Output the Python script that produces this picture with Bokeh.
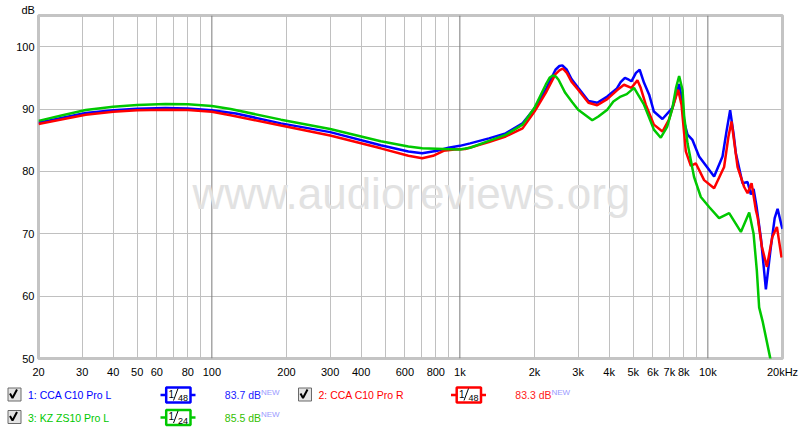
from bokeh.plotting import figure
from bokeh.models import Range1d, FixedTicker, Label, Span
from bokeh.embed import file_html
from bokeh.resources import INLINE
from bokeh.core.properties import value

FONT = "Liberation Sans"

# ---------------- data ----------------
blue_f = [20, 25, 31, 40, 50, 65, 80, 100, 125, 190, 300, 480, 620, 705, 810, 900, 1000, 1100,
          1310, 1530, 1790, 2000, 2220, 2430, 2520, 2590, 2700, 2820, 3000, 3300, 3580, 3930,
          4300, 4450, 4630, 4800, 4920, 5130, 5310, 5530, 5800, 6060, 6560, 7200, 7660, 7830,
          8020, 8280, 8670, 9220, 10600, 11460, 11900, 12300, 12700, 12970, 13800, 14460, 14910,
          15290, 15700, 16400, 17140, 17900, 18600, 19110, 19830, 20000]
blue_db = [87.8, 88.6, 89.35, 89.8, 90.05, 90.15, 90.1, 89.8, 89.3, 87.7, 86.3, 84.2, 83.2, 82.9,
           83.3, 83.8, 84.1, 84.5, 85.3, 86.1, 87.7, 90.1, 93.1, 96.3, 96.9, 97.0, 96.3, 94.8,
           93.4, 91.3, 91.0, 92.0, 93.3, 94.3, 95.0, 94.7, 94.45, 95.8, 96.3, 94.2, 92.3, 89.6,
           88.4, 90.2, 94.0, 92.0, 88.0, 85.9, 85.05, 82.4, 79.2, 82.4, 86.5, 89.8, 86.0, 82.9,
           78.1, 78.3, 76.3, 77.2, 74.5, 69.0, 61.1, 67.5, 72.5, 74.0, 71.3, 70.8]

red_f = [20, 25, 31, 40, 50, 65, 80, 100, 119, 190, 300, 480, 620, 705, 780, 860, 950, 1050,
         1310, 1530, 1790, 2000, 2220, 2430, 2520, 2600, 2700, 2820, 3000, 3300, 3580, 3930, 4300,
         4590, 4920, 5200, 5360, 5620, 6060, 6560, 6970, 7590, 7830, 8150, 8540, 8940, 9660,
         10600, 11630, 12100, 12460, 12800, 13180, 14010, 14460, 15010, 15620, 15870, 16500,
         17300, 18200, 18990, 19830]
red_db = [87.6, 88.35, 89.1, 89.55, 89.8, 89.9, 89.85, 89.55, 89.0, 87.35, 85.75, 83.7, 82.5,
          82.1, 82.5, 83.3, 83.5, 83.6, 84.7, 85.6, 86.9, 89.6, 92.6, 95.6, 96.2, 96.5, 95.8,
          94.4, 93.1, 91.0, 90.6, 91.6, 93.0, 93.9, 93.4, 94.6, 93.4, 90.7, 87.5, 86.4, 88.3,
          93.1, 90.7, 83.2, 80.9, 81.3, 78.6, 77.3, 80.7, 85.5, 88.0, 84.5, 80.7, 77.5, 76.5,
          78.1, 73.8, 72.7, 68.0, 64.7, 69.5, 71.1, 66.2]

green_f = [20, 25, 31, 40, 50, 65, 80, 100, 119, 190, 300, 480, 620, 705, 860, 1000, 1100, 1310,
           1530, 1790, 2000, 2220, 2300, 2370, 2440, 2500, 2660, 2840, 3000, 3420, 3620, 3930,
           4160, 4450, 4710, 5040, 5530, 6060, 6460, 6860, 7200, 7450, 7660, 7910, 8020, 8280,
           8800, 9370, 10120, 11100, 12190, 13590, 14680, 15290, 15760, 16100, 16620, 17840,
           18300]
green_db = [88.1, 89.0, 89.85, 90.35, 90.65, 90.8, 90.75, 90.5, 90.0, 88.3, 86.8, 84.85, 84.0,
            83.7, 83.6, 83.5, 83.8, 84.9, 85.85, 87.5, 90.2, 93.9, 95.0, 95.4, 95.2, 94.7, 92.6,
            91.1, 89.9, 88.2, 88.8, 89.9, 91.2, 92.0, 92.4, 93.4, 90.7, 86.7, 85.4, 87.2, 90.2,
            93.5, 95.3, 93.0, 89.0, 84.5, 79.1, 75.9, 74.3, 72.5, 73.3, 70.3, 73.4, 70.0, 64.1,
            58.2, 56.0, 50.1, 48.0]

x_ticks = [20, 30, 40, 50, 60, 80, 100, 200, 300, 400, 600, 800, 1000, 2000, 3000, 4000, 5000,
           6000, 7000, 8000, 10000, 20000]
x_tick_labels = ["20", "30", "40", "50", "60", "80", "100", "200", "300", "400", "600", "800",
                 "1k", "2k", "3k", "4k", "5k", "6k", "7k", "8k", "10k", "20kHz"]
x_grid_minor = [30, 40, 50, 60, 70, 80, 90, 200, 300, 400, 500, 600, 700, 800, 900,
                2000, 3000, 4000, 5000, 6000, 7000, 8000, 9000]
x_grid_major = [100, 1000, 10000]
y_ticks = [50, 60, 70, 80, 90, 100]
y_grid = [60, 70, 80, 90, 100]
y_unit = "dB"
watermark = "www.audioreviews.org"

legend_names = ["1: CCA C10 Pro L", "2: CCA C10 Pro R", "3: KZ ZS10 Pro L"]
legend_smooth = ["48", "48", "24"]
legend_levels = ["83.7 dB", "83.3 dB", "85.5 dB"]
colors = ["#0000ff", "#ff0000", "#00c800"]
level_colors = ["#2020ff", "#ff2020", "#33c000"]

# ---------------- main plot ----------------
p = figure(width=800, height=385, x_axis_type="log",
           x_range=Range1d(20, 20000), y_range=Range1d(50, 105),
           output_backend="svg", toolbar_location=None,
           min_border_left=38, min_border_right=18, min_border_top=15, min_border_bottom=27)
p.background_fill_color = "white"
p.border_fill_color = "white"
p.outline_line_color = "#c4c4c4"
p.outline_line_width = 3

p.title.text = y_unit
p.title.align = "left"
p.title.offset = -17
p.title.standoff = 0
p.title.text_font = FONT
p.title.text_font_size = "11px"
p.title.text_font_style = "normal"
p.title.text_color = "black"

p.xgrid.ticker = FixedTicker(ticks=x_grid_minor)
p.xgrid.grid_line_color = "#c0c0c0"
p.ygrid.ticker = FixedTicker(ticks=y_grid)
p.ygrid.grid_line_color = "#c0c0c0"
for f in x_grid_major:
    p.add_layout(Span(location=f, dimension="height", line_color="#7a7a7a",
                      line_width=1, level="underlay"))

p.xaxis.ticker = FixedTicker(ticks=x_ticks)
p.xaxis.major_label_overrides = {t: l for t, l in zip(x_ticks, x_tick_labels)}
p.yaxis.ticker = FixedTicker(ticks=y_ticks)
for ax in (p.xaxis, p.yaxis):
    ax.axis_line_color = None
    ax.major_tick_line_color = None
    ax.minor_tick_line_color = None
    ax.major_tick_out = 0
    ax.major_tick_in = 0
    ax.major_label_text_font = FONT
    ax.major_label_text_font_size = "11px"
    ax.major_label_text_color = "black"
p.xaxis.major_label_standoff = 7
p.yaxis.major_label_standoff = 4

p.add_layout(Label(x=638, y=76.4, text=watermark, text_font=FONT, text_font_size="44px",
                   text_color="#e2e2e2", text_align="center", text_baseline="alphabetic",
                   level="underlay"))

p.line(blue_f, blue_db, line_color=colors[0], line_width=2.5)
p.line(red_f, red_db, line_color=colors[1], line_width=2.5)
p.line(green_f, green_db, line_color=colors[2], line_width=2.5)

# ---------------- legend strip ----------------
lg = figure(width=800, height=46, x_range=Range1d(0, 800), y_range=Range1d(431, 385),
            output_backend="svg", toolbar_location=None, min_border=0,
            min_border_left=0, min_border_right=0, min_border_top=0, min_border_bottom=0,
            x_axis_location=None, y_axis_location=None)
lg.xgrid.visible = False
lg.ygrid.visible = False
lg.outline_line_color = None
lg.background_fill_color = "white"
lg.border_fill_color = "white"

col_x = [0, 290.5, 0]
row_y = [394.5, 394.5, 417]

for i in range(3):
    x0, cy, c = col_x[i], row_y[i], colors[i]
    # checkbox
    lg.quad(left=[x0 + 7.5], right=[x0 + 20.5], top=[cy - 7], bottom=[cy + 6],
            fill_color="#e4e4e4", line_color="#6a6a6a", line_width=1)
    lg.line([x0 + 9.5, x0 + 12, x0 + 16.5], [cy - 1.5, cy + 3, cy - 5.5],
            line_color="black", line_width=2)
    # name
    lg.text(x=[x0 + 27.5], y=[cy], text=[legend_names[i]], text_color=c,
            text_font=value(FONT), text_font_size="10.5px", text_baseline="middle")
    # smoothing box
    lg.line([x0 + 160, x0 + 195], [cy, cy], line_color=c, line_width=2.5)
    lg.quad(left=[x0 + 165.7], right=[x0 + 190], top=[cy - 7.5], bottom=[cy + 7.5],
            fill_color="white", line_color=c, line_width=2.5)
    lg.text(x=[x0 + 168], y=[cy + 2.5], text=["1"], text_color="black",
            text_font=value(FONT), text_font_size="10px", text_baseline="bottom")
    lg.line([x0 + 173, x0 + 177.5], [cy + 5.5, cy - 6.5], line_color="black", line_width=1)
    lg.text(x=[x0 + 177.5], y=[cy + 6], text=[legend_smooth[i]], text_color="black",
            text_font=value(FONT), text_font_size="9px", text_baseline="bottom")
    # level
    lg.text(x=[x0 + 224.3], y=[cy], text=[legend_levels[i]], text_color=level_colors[i],
            text_font=value(FONT), text_font_size="10.5px", text_baseline="middle")
    lg.text(x=[x0 + 260.5], y=[cy - 7.5], text=["NEW"], text_color="#9a9aff",
            text_font=value(FONT), text_font_size="8px", text_baseline="top")

open("out.html", "w").write(file_html([p, lg], INLINE))
